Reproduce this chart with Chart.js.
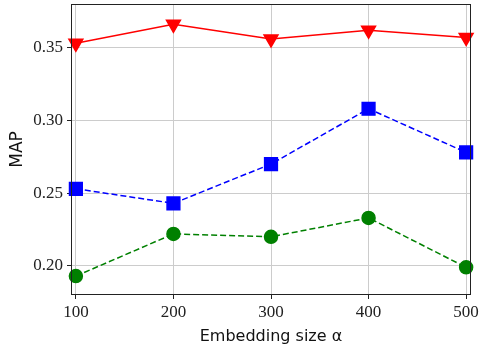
<!DOCTYPE html>
<html>
<head>
<meta charset="utf-8">
<script src="https://cdn.jsdelivr.net/npm/chart.js@4/dist/chart.umd.min.js"></script>
<style>
  html, body { margin: 0; padding: 0; background: #fff; }
  #wrap { width: 479px; height: 350px; }
</style>
</head>
<body>
<div id="wrap"><canvas id="mapChart" width="479" height="350"></canvas></div>
<script>
const embeddingSizes = [100, 200, 300, 400, 500];
const redValues = [0.353, 0.366, 0.356, 0.362, 0.357];
const blueValues = [0.253, 0.243, 0.270, 0.308, 0.278];
const greenValues = [0.193, 0.222, 0.220, 0.233, 0.199];
const xTicks = [100, 200, 300, 400, 500];
const yTicks = [0.20, 0.25, 0.30, 0.35];

const toPoints = vals => vals.map((v, i) => ({ x: embeddingSizes[i], y: v }));

// frame on all four sides like matplotlib spines
const frame = {
    id: 'frame',
    afterDatasetsDraw(chart) {
        const { ctx, chartArea: a } = chart;
        ctx.save();
        ctx.strokeStyle = '#222';
        ctx.lineWidth = 1;
        ctx.strokeRect(a.left + 0.5, a.top + 0.5, a.right - a.left - 1, a.bottom - a.top - 1);
        ctx.restore();
    }
};

const serifTicks = { family: '"Liberation Serif", serif', size: 17 };
const sansTitle = { family: '"DejaVu Sans", sans-serif', size: 16 };

new Chart(document.getElementById('mapChart'), {
    type: 'line',
    data: {
        datasets: [
            {
                data: toPoints(redValues),
                borderColor: '#ff0000',
                backgroundColor: '#ff0000',
                borderWidth: 1.5,
                pointStyle: 'triangle',
                rotation: 180,
                pointRadius: 8,
                pointHoverRadius: 8,
                clip: false
            },
            {
                data: toPoints(blueValues),
                borderColor: '#0000ff',
                backgroundColor: '#0000ff',
                borderWidth: 1.5,
                borderDash: [6, 3],
                pointStyle: 'rect',
                pointRadius: 9,
                pointHoverRadius: 9,
                clip: false
            },
            {
                data: toPoints(greenValues),
                borderColor: '#008000',
                backgroundColor: '#008000',
                borderWidth: 1.5,
                borderDash: [6, 3],
                pointStyle: 'circle',
                pointRadius: 6.5,
                pointHoverRadius: 6.5,
                clip: false
            }
        ]
    },
    options: {
        responsive: false,
        animation: false,
        layout: { autoPadding: false, padding: { top: 4, right: 8, left: 0, bottom: 0 } },
        plugins: { legend: { display: false }, tooltip: { enabled: false } },
        scales: {
            x: {
                type: 'linear',
                min: 95,
                max: 505,
                afterBuildTicks: axis => { axis.ticks = xTicks.map(v => ({ value: v })); },
                afterFit: axis => { axis.height = 55; axis.paddingLeft = 0; axis.paddingRight = 0; },
                grid: { color: '#cccccc', tickColor: '#222', tickLength: 4 },
                border: { display: false },
                ticks: { color: '#222', font: serifTicks, padding: 3, maxRotation: 0 },
                title: { display: true, text: 'Embedding size α', color: '#111', font: sansTitle, padding: { top: 2, bottom: 4 } }
            },
            y: {
                min: 0.18,
                max: 0.38,
                afterBuildTicks: axis => { axis.ticks = yTicks.map(v => ({ value: v })); },
                afterFit: axis => { axis.width = 71; axis.paddingTop = 0; axis.paddingBottom = 0; },
                grid: { color: '#cccccc', tickColor: '#222', tickLength: 4 },
                border: { display: false },
                ticks: { color: '#222', font: serifTicks, padding: 4, callback: v => v.toFixed(2) },
                title: { display: true, text: 'MAP', color: '#111', font: { family: '"DejaVu Sans", sans-serif', size: 17 }, padding: { top: 7, bottom: 4 } }
            }
        }
    },
    plugins: [frame]
});
</script>
</body>
</html>
